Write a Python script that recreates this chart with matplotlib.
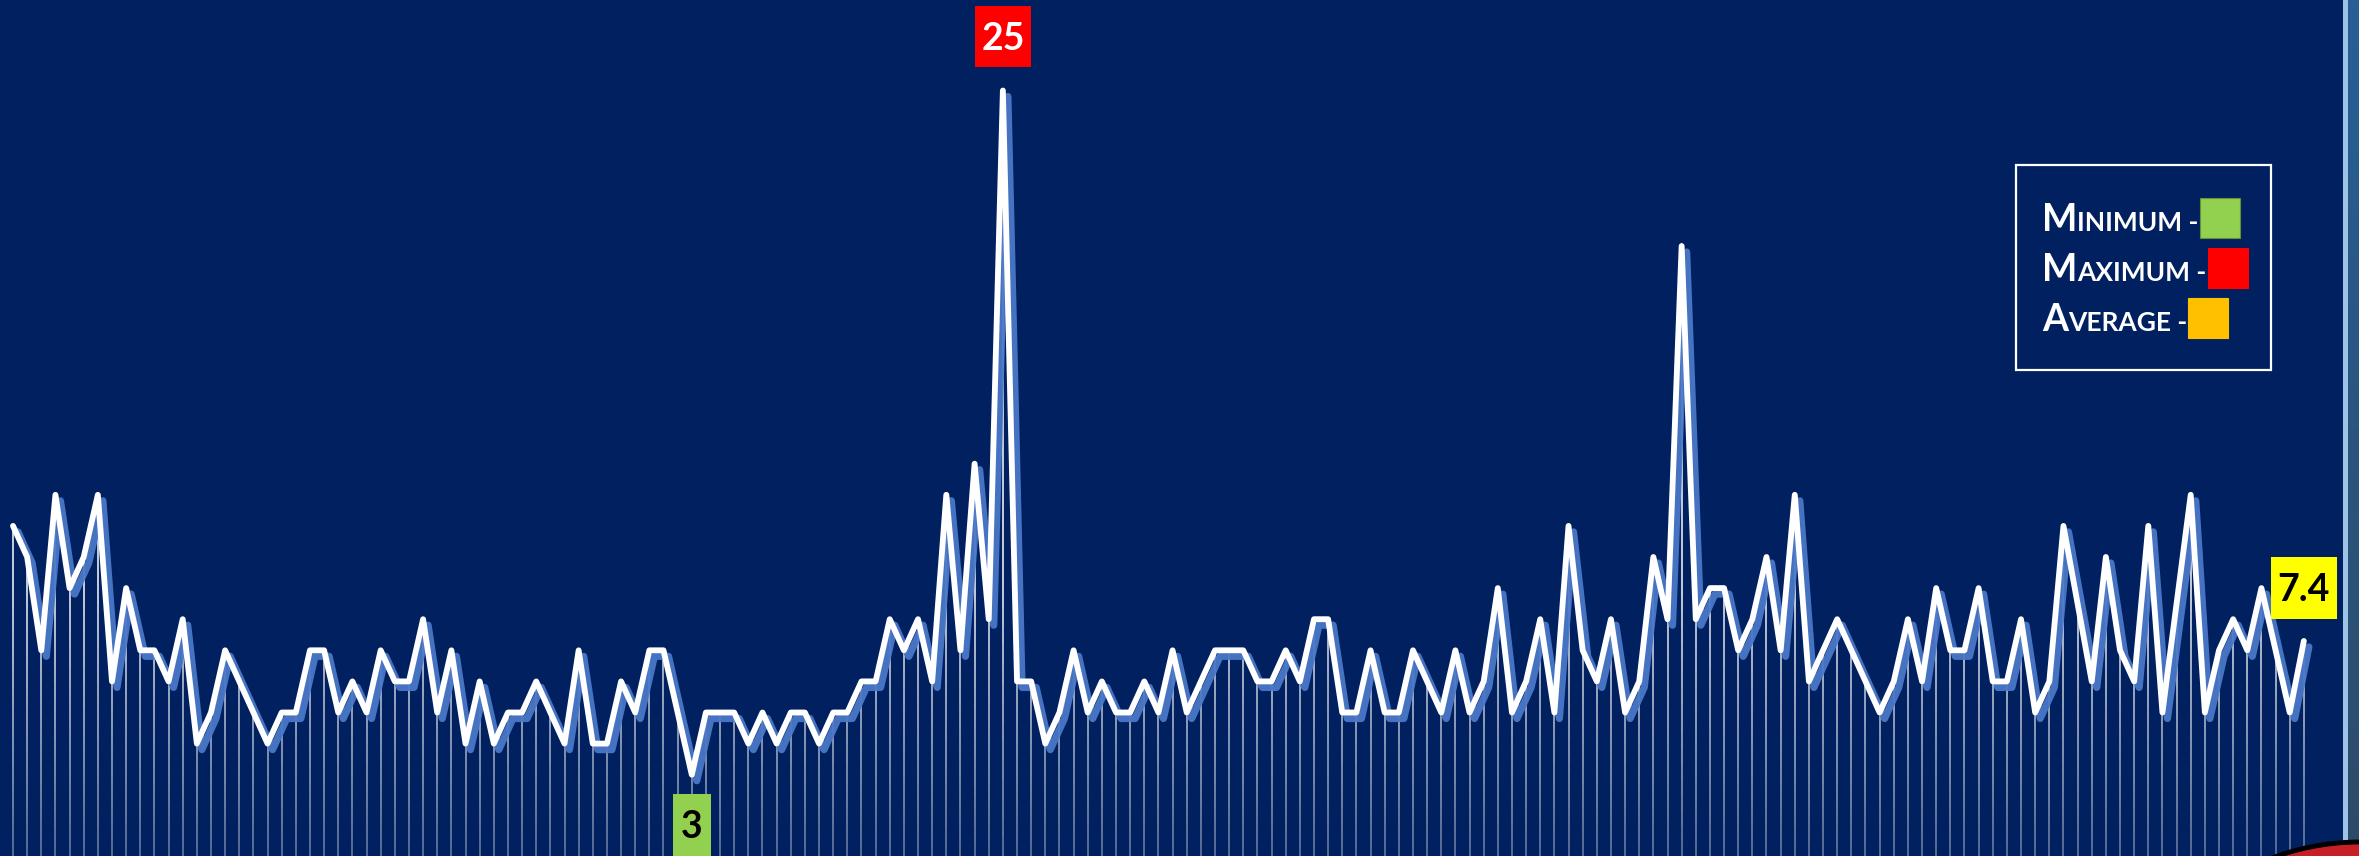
import matplotlib
matplotlib.use('Agg')
import matplotlib.pyplot as plt
import numpy as np
from matplotlib.collections import LineCollection
from matplotlib.patches import Rectangle, Circle
from matplotlib.transforms import IdentityTransform, offset_copy

# values, one per point
values = [11, 10, 7, 12, 9, 10, 12, 6, 9, 7,
          7, 6, 8, 4, 5, 7, 6, 5, 4, 5,
          5, 7, 7, 5, 6, 5, 7, 6, 6, 8,
          5, 7, 4, 6, 4, 5, 5, 6, 5, 4,
          7, 4, 4, 6, 5, 7, 7, 5, 3, 5,
          5, 5, 4, 5, 4, 5, 5, 4, 5, 5,
          6, 6, 8, 7, 8, 6, 12, 7, 13, 8,
          25, 6, 6, 4, 5, 7, 5, 6, 5, 5,
          6, 5, 7, 5, 6, 7, 7, 7, 6, 6,
          7, 6, 8, 8, 5, 5, 7, 5, 5, 7,
          6, 5, 7, 5, 6, 9, 5, 6, 8, 5,
          11, 7, 6, 8, 5, 6, 10, 8, 20, 8,
          9, 9, 7, 8, 10, 7, 12, 6, 7, 8,
          7, 6, 5, 6, 8, 6, 9, 7, 7, 9,
          6, 6, 8, 5, 6, 11, 8.5, 6, 10, 7,
          6, 11, 5, 8.5, 12, 5, 7, 8, 7, 9,
          7, 5, 7.3]
avg_value = 7.4
legend_labels = ['Minimum', 'Maximum', 'Average']
legend_colors = ['#92D050', '#FF0000', '#FFC000']

W, H = 2359, 856
bg = '#002060'
numfont = ['Liberation Sans Narrow', 'Lato', 'DejaVu Sans']
legfont = ['Lato', 'DejaVu Sans']

x = np.arange(len(values))
vals = np.array(values, dtype=float)
imin = int(np.argmin(vals))
imax = int(np.argmax(vals))

fig = plt.figure(figsize=(W / 100, H / 100), dpi=100, facecolor=bg)
ax = fig.add_axes([0, 0, 1, 1])
ax.set_facecolor(bg)
ax.set_xlim(-0.92, 165.9)
ax.set_ylim(0.386, 27.91)
ax.axis('off')

# drop lines, white fading towards the bottom
ybot = ax.get_ylim()[0]
segs = []
cols = []
nseg = 40
for i, v in enumerate(vals):
    ys = np.linspace(ybot, v, nseg + 1)
    for a, b in zip(ys[:-1], ys[1:]):
        segs.append([(i, a), (i, b)])
        t = np.clip(((a + b) / 2 - ybot) / (9 - ybot), 0, 1)
        cols.append((1, 1, 1, 0.4 + 0.55 * t))
lc = LineCollection(segs, colors=cols, linewidths=1.15, capstyle='butt', zorder=1)
ax.add_collection(lc)

# blue shadow + white line
shadow = offset_copy(ax.transData, fig=fig, x=5, y=-6, units='dots')
ax.plot(x, vals, color='#4A78C8', lw=5.2, transform=shadow, zorder=2,
        solid_joinstyle='round', solid_capstyle='round', alpha=0.95)
ax.plot(x, vals, color='white', lw=4.2, zorder=3,
        solid_joinstyle='round', solid_capstyle='round')

idt = IdentityTransform()


def label_box(i, v, text, fc, tc, dy, w, h):
    px, py = ax.transData.transform((i, v))
    cy = py + dy
    fig.add_artist(Rectangle((px - w / 2, cy - h / 2), w, h, fc=fc, ec='none',
                             transform=idt, zorder=5))
    fig.text(px, cy - 13.5, text, transform=idt, ha='center', va='baseline',
             fontsize=27, fontweight='bold', family=numfont, color=tc, zorder=6)


label_box(imax, vals[imax], '%g' % vals[imax], '#FF0000', 'white', 54, 56, 61)
label_box(imin, vals[imin], '%g' % vals[imin], '#92D050', 'black', -50, 38, 62)
label_box(len(vals) - 1, avg_value, '%.1f' % avg_value, '#FFFF00', 'black', 50, 66, 62)

# legend
fig.add_artist(Rectangle((2016, 486), 255, 205, fill=False, ec='white', lw=1.6,
                         transform=idt, zorder=5))
r = fig.canvas.get_renderer()
for k, (lab, col) in enumerate(zip(legend_labels, legend_colors)):
    base = 625 - k * 50
    t1 = fig.text(2042, base, lab[0], transform=idt, va='baseline', fontsize=27,
                  fontweight='bold', family=legfont, color='white', zorder=6)
    e1 = t1.get_window_extent(r)
    t2 = fig.text(e1.x1, base, lab[1:].upper() + ' -', transform=idt, va='baseline',
                  fontsize=19, fontweight='bold', family=legfont, color='white', zorder=6)
    e2 = t2.get_window_extent(r)
    fig.add_artist(Rectangle((e2.x1 + 1, base - 7), 40, 40, fc=col, ec='#6a8f3a' if k == 0 else col,
                             lw=0.8, transform=idt, zorder=6))

# edge of neighbouring panel on the right
pax = fig.add_axes([2348 / W, 0, (W - 2348) / W, 1])
grad = np.linspace(0, 1, 256)[:, None]
top = np.array([0x28, 0x5F, 0x96]) / 255
bot = np.array([0x2D, 0x4B, 0x69]) / 255
img = top[None, None, :] * (1 - grad[:, :, None]) + bot[None, None, :] * grad[:, :, None]
pax.imshow(img, aspect='auto', extent=(0, 1, 0, 1))
pax.axis('off')
fig.add_artist(Rectangle((2343, 0), 5, H, fc='#9DC3E6', ec='none', transform=idt, zorder=4))
fig.add_artist(Circle((2360, -236), 250, fc='#C62026', ec='black', lw=3.5,
                      transform=idt, zorder=5))

fig.savefig('out.png', dpi=100, facecolor=bg)
